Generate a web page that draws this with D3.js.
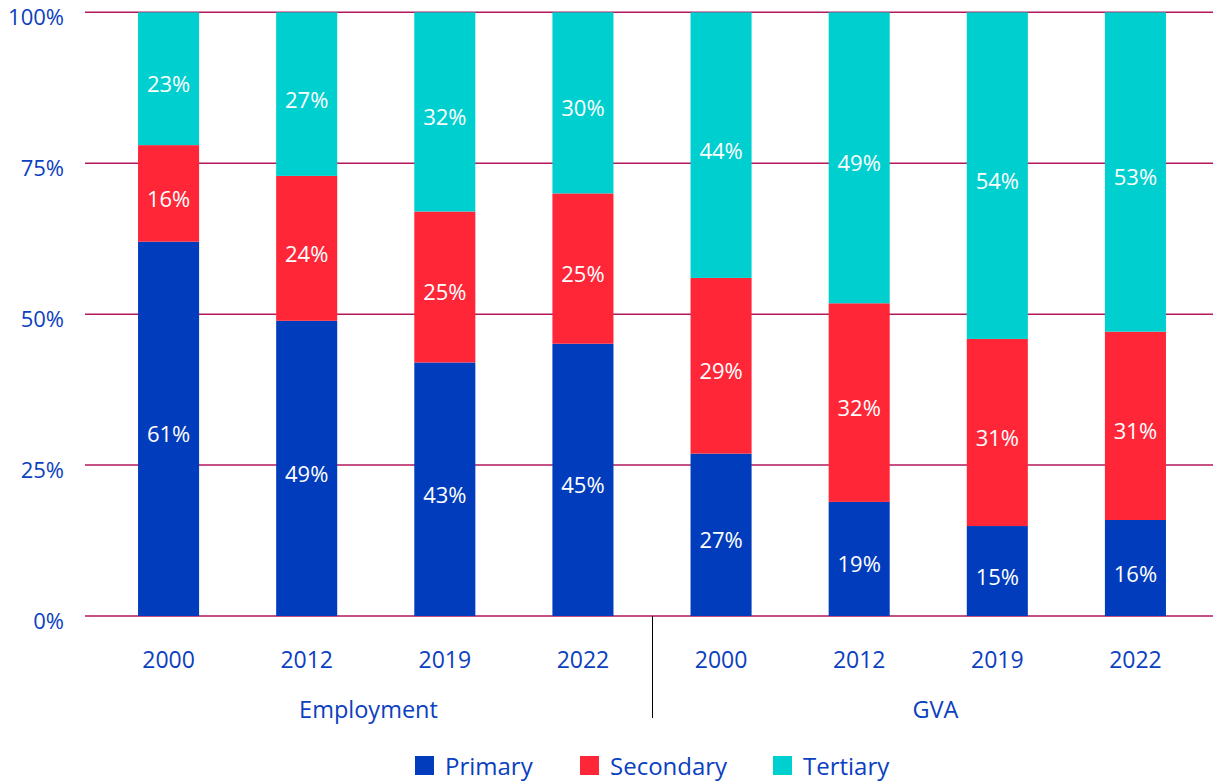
<!DOCTYPE html>
<html>
<head>
<meta charset="utf-8">
<script src="https://cdn.jsdelivr.net/npm/d3@7"></script>
<style>
  body { margin: 0; background: #fff; }
  text { font-family: 'Open Sans', 'Noto Sans', sans-serif; }
</style>
</head>
<body>
<div id="chart"></div>
<script>
// Chart data.
var groups = ['Employment', 'GVA'];
var years = ['2000', '2012', '2019', '2022'];
var sectors = ['Primary', 'Secondary', 'Tertiary'];

// Drawn segment sizes (% of total), in order Employment 2000..2022, GVA 2000..2022.
var primary   = [62.0, 48.9, 42.0, 45.1, 26.9, 18.9, 14.9, 15.9];
var secondary = [16.0, 24.0, 25.0, 24.9, 29.1, 32.9, 31.0, 31.2];
var tertiary  = [22.0, 27.1, 33.0, 30.0, 44.0, 48.2, 54.1, 52.9];

// Labels printed on the segments.
var primaryLabels   = ['61%', '49%', '43%', '45%', '27%', '19%', '15%', '16%'];
var secondaryLabels = ['16%', '24%', '25%', '25%', '29%', '32%', '31%', '31%'];
var tertiaryLabels  = ['23%', '27%', '32%', '30%', '44%', '49%', '54%', '53%'];

var yTicks = [0, 25, 50, 75, 100];

var colors = {Primary: '#003cbb', Secondary: '#ff2638', Tertiary: '#00cfcf'};
var textBlue = '#0b40bf';

// Build rows for the stack.
var rows = [];
groups.forEach(function(g, gi){
    years.forEach(function(yr, yi){
        var i = gi * years.length + yi;
        rows.push({
            key: g + '-' + yr, group: g, year: yr,
            Primary: primary[i], Secondary: secondary[i], Tertiary: tertiary[i],
            labels: {Primary: primaryLabels[i], Secondary: secondaryLabels[i], Tertiary: tertiaryLabels[i]}
        });
    });
});

var width = 1213, height = 783;

var svg = d3.select('#chart')
    .append('svg')
        .attr('width', width)
        .attr('height', height);

var x = d3.scaleBand()
    .domain(rows.map(function(d){ return d.key; }))
    .range([85, 1219])
    .paddingInner(0.558)
    .paddingOuter(0.384);

var y = d3.scaleLinear()
    .domain([0, 100])
    .range([616, 12.3]);

// Gridlines
svg.append('g')
    .selectAll('line')
    .data(yTicks)
    .enter().append('line')
        .attr('x1', 85)
        .attr('x2', width)
        .attr('y1', function(d){ return y(d); })
        .attr('y2', function(d){ return y(d); })
        .attr('stroke', '#b3175c')
        .attr('stroke-width', 1.5);

// Y-axis tick labels
svg.append('g')
    .selectAll('text')
    .data(yTicks)
    .enter().append('text')
        .attr('x', 64)
        .attr('y', function(d){ return y(d) + 13; })
        .attr('text-anchor', 'end')
        .attr('font-size', '22px')
        .attr('fill', textBlue)
        .text(function(d){ return d + '%'; });

// Stacked bars
var series = d3.stack().keys(sectors)(rows);

var layers = svg.append('g')
    .selectAll('g')
    .data(series)
    .enter().append('g')
        .attr('fill', function(d){ return colors[d.key]; });

layers.selectAll('rect')
    .data(function(d){ return d; })
    .enter().append('rect')
        .attr('x', function(d){ return x(d.data.key); })
        .attr('y', function(d){ return y(d[1]); })
        .attr('width', x.bandwidth())
        .attr('height', function(d){ return y(d[0]) - y(d[1]); });

// Segment labels
series.forEach(function(s){
    svg.append('g')
        .selectAll('text')
        .data(s)
        .enter().append('text')
            .attr('x', function(d){ return x(d.data.key) + x.bandwidth() / 2; })
            .attr('y', function(d){ return (y(d[0]) + y(d[1])) / 2 + 13.5; })
            .attr('text-anchor', 'middle')
            .attr('font-size', '22px')
            .attr('fill', '#fff')
            .text(function(d){ return d.data.labels[s.key]; });
});

// Year labels
svg.append('g')
    .selectAll('text')
    .data(rows)
    .enter().append('text')
        .attr('x', function(d){ return x(d.key) + x.bandwidth() / 2; })
        .attr('y', 668)
        .attr('text-anchor', 'middle')
        .attr('font-size', '23px')
        .attr('fill', textBlue)
        .text(function(d){ return d.year; });

// Group labels and divider
var divX = (x(rows[3].key) + x.bandwidth() + x(rows[4].key)) / 2;
var groupSpans = [[85, divX], [divX, 1219]];

svg.append('g')
    .selectAll('text')
    .data(groups)
    .enter().append('text')
        .attr('x', function(d, i){ return (groupSpans[i][0] + groupSpans[i][1]) / 2; })
        .attr('y', 718)
        .attr('text-anchor', 'middle')
        .attr('font-size', '23.5px')
        .attr('fill', textBlue)
        .text(function(d){ return d; });

svg.append('line')
    .attr('x1', Math.round(divX) + 0.5)
    .attr('x2', Math.round(divX) + 0.5)
    .attr('y1', y(0))
    .attr('y2', 718)
    .attr('stroke', '#000')
    .attr('stroke-width', 1);

// Legend
var legendX = [415, 580, 773];
var legend = svg.append('g')
    .selectAll('g')
    .data(sectors)
    .enter().append('g')
        .attr('transform', function(d, i){ return 'translate(' + legendX[i] + ', 756)'; });

legend.append('rect')
    .attr('width', 19)
    .attr('height', 19)
    .attr('fill', function(d){ return colors[d]; });

legend.append('text')
    .attr('x', 30)
    .attr('y', 19)
    .attr('font-size', '24px')
    .attr('fill', textBlue)
    .text(function(d){ return d; });
</script>
</body>
</html>
